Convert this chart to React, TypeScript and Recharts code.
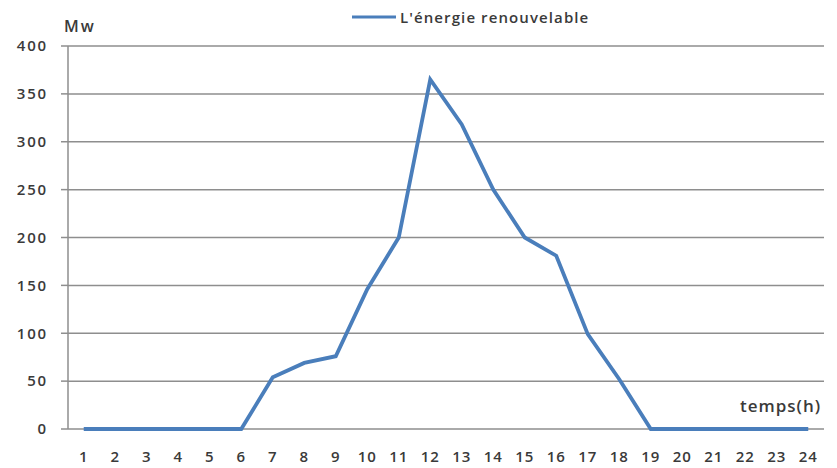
import { CartesianGrid, Line, LineChart, XAxis, YAxis } from 'recharts';

const HOURS = [1, 2, 3, 4, 5, 6, 7, 8, 9, 10, 11, 12, 13, 14, 15, 16, 17, 18, 19, 20, 21, 22, 23, 24];
const POWER = [0, 0, 0, 0, 0, 0, 54, 69, 76, 146, 200, 365, 318, 250, 200, 181, 99, 52, 0, 0, 0, 0, 0, 0];
const Y_TICKS = [0, 50, 100, 150, 200, 250, 300, 350, 400];
const BOUNDARY_TICKS = [0, 1, 2, 3, 4, 5, 6, 7, 8, 9, 10, 11, 12, 13, 14, 15, 16, 17, 18, 19, 20, 21, 22, 23, 24];
const SERIES_NAME = "L'énergie renouvelable";
const Y_UNIT = 'Mw';
const X_UNIT = 'temps(h)';

const FONT = '"Open Sans", "DejaVu Sans", sans-serif';
const TEXT = '#3a3a3a';
const GRID = '#8e8e8e';
const LINE = '#4a7ebb';

const data = HOURS.map((h, i) => ({ h, power: POWER[i] }));

export default function App() {
  return (
    <div style={{ position: 'absolute', left: 0, top: 0, width: 837, height: 468, background: '#fff', fontFamily: FONT }}>
      <LineChart width={837} height={468} data={data} margin={{ top: 46, right: 13, bottom: 10, left: 0 }}>
        <CartesianGrid horizontal vertical={false} stroke={GRID} strokeWidth={1.5} />
        {/* boundary tick marks between the hours */}
        <XAxis
          xAxisId="marks"
          dataKey="h"
          type="number"
          domain={[0, 24]}
          allowDataOverflow
          ticks={BOUNDARY_TICKS}
          tick={false}
          height={0}
          stroke={GRID}
          strokeWidth={1.5}
          tickSize={5}
        />
        <XAxis
          dataKey="h"
          type="number"
          domain={[0.5, 24.5]}
          allowDataOverflow
          ticks={HOURS}
          interval={0}
          axisLine={false}
          tickLine={false}
          height={29}
          tickMargin={16}
          tick={{ fill: TEXT, fontSize: 15, fontFamily: FONT, fontWeight: 600, letterSpacing: 0.8 }}
        />
        <YAxis
          domain={[0, 400]}
          ticks={Y_TICKS}
          width={68}
          stroke={GRID}
          strokeWidth={1.5}
          tickLine={{ stroke: GRID }}
          tickSize={7}
          tickMargin={13}
          tick={{ fill: TEXT, fontSize: 15, fontFamily: FONT, fontWeight: 600, letterSpacing: 1.8 }}
        />
        <Line
          dataKey="power"
          name={SERIES_NAME}
          stroke={LINE}
          strokeWidth={3.8}
          dot={false}
          activeDot={false}
          type="linear"
          isAnimationActive={false}
        />
      </LineChart>
      <div style={{ position: 'absolute', left: 352, top: 7, display: 'flex', alignItems: 'center', fontSize: 15, fontWeight: 600, letterSpacing: 1.1, color: TEXT, whiteSpace: 'nowrap' }}>
        <svg width={44} height={6} style={{ marginRight: 4 }}>
          <line x1={0} y1={3} x2={44} y2={3} stroke={LINE} strokeWidth={3} />
        </svg>
        <span>{SERIES_NAME}</span>
      </div>
      <div style={{ position: 'absolute', left: 64, top: 15, fontSize: 16, fontWeight: 600, letterSpacing: 2, color: TEXT }}>{Y_UNIT}</div>
      <div style={{ position: 'absolute', left: 740, top: 394, fontSize: 17, fontWeight: 600, letterSpacing: 1, color: TEXT }}>{X_UNIT}</div>
    </div>
  );
}
